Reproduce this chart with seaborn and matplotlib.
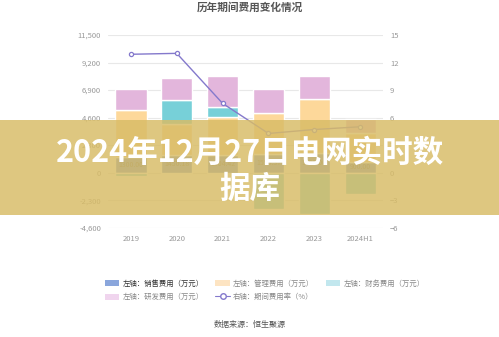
import numpy as np
import pandas as pd
import matplotlib
matplotlib.use("Agg")
import matplotlib.pyplot as plt
from matplotlib.patches import Patch, Rectangle
from matplotlib.lines import Line2D
import seaborn as sns

# ---- data ----
years = ['2019', '2020', '2021', '2022', '2023', '2024H1']
sales = [1300.00, 1450.18, 1504.42, 1550.37, 1600.00, 900.00]     # 销售费用
mgmt = [3900, 2580, 3116, 3400, 4530, 2380]                         # 管理费用
fin = [-250, 2020, 840, -3020, -3440, -1760]                        # 财务费用
rnd = [1770, 1850, 2600, 2020, 1930, 1170]                          # 研发费用
rate = [12.9, 13.0, 7.55, 4.27, 4.7, 5.0]                           # 期间费用率 %
left_ticks = [-4600, -2300, 0, 2300, 4600, 6900, 9200, 11500]
right_ticks = [-6, -3, 0, 3, 6, 9, 12, 15]

sns.set_theme(style="white")
plt.rcParams['font.family'] = ['Noto Sans CJK SC', 'DejaVu Sans']

C_SALES = '#6f92d6'
C_MGMT = '#fdd89a'
C_FIN = '#77d0d8'
C_RND = '#e3b6dc'
C_LINE = '#8479cc'

fig = plt.figure(figsize=(4.99, 3.37), dpi=100)
ax = fig.add_axes([108/499, 1-227.7/337, (383-108)/499, (227.7-35)/337])

s = np.array(sales); m = np.array(mgmt); f = np.array(fin); r = np.array(rnd)
fpos = np.where(f > 0, f, 0)
w = 0.68
sns.barplot(x=years, y=sales, color=C_SALES, width=w, errorbar=None, ax=ax,
            saturation=1, zorder=2)
sns.barplot(x=years, y=mgmt, color=C_MGMT, width=w, errorbar=None, ax=ax,
            saturation=1, bottom=s, zorder=2)
sns.barplot(x=years, y=fin, color=C_FIN, width=w, errorbar=None, ax=ax,
            saturation=1, bottom=np.where(f > 0, s + m, 0), zorder=2)
sns.barplot(x=years, y=rnd, color=C_RND, width=w, errorbar=None, ax=ax,
            saturation=1, bottom=s + m + fpos, zorder=2)
ax.bar_label(ax.containers[0], labels=[f'{v:.2f}' for v in sales],
             label_type='center', fontsize=5, color='#666666')

ax.set_ylim(-4600, 11500)
ax.set_yticks(left_ticks)
ax.set_yticklabels([f'{v:,}' for v in left_ticks])
ax.set_xlim(-0.5, 5.5)
ax.grid(axis='y', color='#e8e8e8', lw=0.8, zorder=0)
ax.set_axisbelow(True)
for sp in ax.spines.values():
    sp.set_visible(False)
ax.tick_params(axis='both', length=0, labelsize=5.5, colors='#999999')
ax.tick_params(axis='y', pad=5)
ax.tick_params(axis='x', pad=5)
ax.set_xlabel(''); ax.set_ylabel('')

ax2 = ax.twinx()
sns.pointplot(x=years, y=rate, ax=ax2, color=C_LINE, markers='o',
              markersize=3, linewidth=1, markerfacecolor='white',
              markeredgewidth=0.9, errorbar=None)
ax2.set_ylim(-6, 15)
ax2.set_yticks(right_ticks)
ax2.set_xlim(-0.5, 5.5)
for sp in ax2.spines.values():
    sp.set_visible(False)
ax2.tick_params(axis='y', length=0, labelsize=5.5, colors='#999999', pad=5)
ax2.grid(False)
ax2.set_ylabel('')

# title
fig.text(0.5, 1-7.5/337, '历年期间费用变化情况', ha='center', va='center',
         fontsize=7.7, fontweight='bold', color='#555555')

# legend
handles = [
    Patch(facecolor='#8aa6dc', edgecolor='none', label='左轴：销售费用（万元）'),
    Patch(facecolor='#f0d5ee', edgecolor='none', label='左轴：研发费用（万元）'),
    Patch(facecolor='#fde4c2', edgecolor='none', label='左轴：管理费用（万元）'),
    Line2D([0], [0], color=C_LINE, marker='o', markerfacecolor='white',
           markersize=4, lw=0.8, label='右轴：期间费用率（%）'),
    Patch(facecolor='#c2e7ee', edgecolor='none', label='左轴：财务费用（万元）'),
]
leg = fig.legend(handles=handles, ncol=3, loc='upper left',
                 bbox_to_anchor=(98/499, 1-273/337), frameon=False,
                 fontsize=5.3, handlelength=2.0, handleheight=0.9,
                 columnspacing=1.6, labelspacing=0.75, handletextpad=0.4)
for i, t in enumerate(leg.get_texts()):
    t.set_color('#333333' if i == 0 else '#888888')

fig.text(0.5, 1-325/337, '数据来源：恒生聚源', ha='center', va='center',
         fontsize=5.8, color='#555555')

# banner overlay
fig.add_artist(Rectangle((0, 1-215/337), 1, 95/337, transform=fig.transFigure,
                         facecolor='#d8bc66', alpha=0.83, edgecolor='none',
                         zorder=10))
fig.text(0.5, 1-153/337, '2024年12月27日电网实时数', ha='center', va='center',
         fontsize=22, fontweight='heavy', color='white', zorder=11)
fig.text(0.5, 1-189/337, '据库', ha='center', va='center',
         fontsize=22, fontweight='heavy', color='white', zorder=11)

fig.savefig('out.png', dpi=100)
